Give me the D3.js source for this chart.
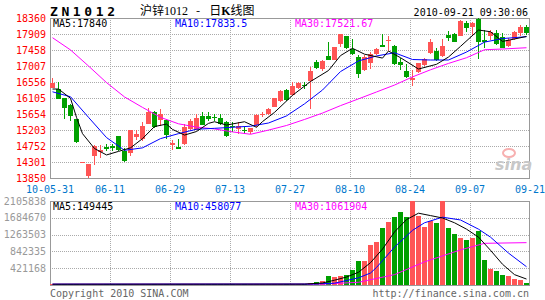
<!DOCTYPE html>
<html>
<head>
<meta charset="utf-8">
<script src="https://cdn.jsdelivr.net/npm/d3@7"></script>
<style>
body { margin: 0; background: #fff; }
svg { display: block; }
text { font-family: "DejaVu Sans Mono", monospace; font-size: 10px; }
</style>
</head>
<body>
<div id="chart"></div>
<script>
// ZN1012 daily candles, 80 trading days
const opens  = [16395,16358,16096,15920,15513,14290,13914,14478,14582,14732,14750,15033,14625,14568,15019,14963,15372,15710,15484,15484,
                14780,14732,14799,15231,15203,15605,15605,15580,15541,15440,15320,15220,15200,15138,15343,15635,15645,15859,16020,16330,
                16189,16395,16460,16584,17128,16922,17297,17176,17627,17844,17486,17269,16894,17083,17336,17598,17730,17579,17128,16866,
                16612,16829,17035,17364,17429,17297,17880,17900,17861,18210,18114,18330,17739,17861,17928,17832,17579,17768,17928,18114];
const highs  = [16677,16547,16110,15940,15520,14300,14252,14770,14794,14816,14816,15042,14704,15210,15189,15428,15831,15740,15808,15513,
                14921,14949,15372,15500,15645,15700,15700,15645,15640,15450,15440,15430,15290,15250,15645,15700,15810,16110,16330,16345,
                16564,16564,16564,16987,17176,17176,17675,17550,17900,17860,17768,17317,17317,17410,17506,17900,17861,17610,17240,17055,
                16894,17100,17220,17768,17506,17768,17993,17930,18303,18275,18250,18360,18021,18021,18021,17928,17787,17993,18162,18162];
const lows   = [16380,16080,15513,15456,14836,14285,13864,14230,14421,14610,14610,14610,14292,14484,14921,14892,15360,15259,15315,14949,
                14639,14667,14794,15200,15190,15330,15456,15456,15343,15000,15160,15090,15090,15090,15300,15570,15630,15850,16000,16030,
                16170,16358,16358,15786,16922,16866,17170,17170,17551,17500,17317,16660,16880,16922,17317,17540,17429,17035,16894,16660,
                16451,16810,17020,17336,17148,17269,17711,17675,17850,17956,17861,17204,17506,17739,17610,17506,17551,17739,17861,17870];
const closes = [16519,16090,15814,15605,14878,14295,14252,14760,14653,14667,14687,14639,14330,15203,15081,15315,15710,15287,15653,15061,
                14844,14681,15301,15456,15541,15343,15513,15565,15372,15042,15300,15310,15180,15250,15625,15650,15795,16096,16302,16048,
                16451,16519,16440,16866,16942,17148,17176,17534,17900,17522,17336,16773,17269,17336,17486,17551,17739,17055,17035,16705,
                16677,17083,17204,17675,17176,17579,17787,17692,18275,18086,18210,17692,17692,17973,17618,17522,17739,17956,18114,17928];
const volumes = [22000,18000,25000,20000,24000,16000,21000,19000,23000,17000,20000,22000,18000,24000,21000,19000,23000,20000,22000,18000,
                 21000,19000,24000,20000,22000,23000,18000,21000,20000,24000,19000,22000,20000,23000,21000,19000,24000,22000,25000,23000,
                 26000,24000,28000,45000,68000,100000,225000,200000,225000,250000,376000,602000,602000,1003000,1070000,1436000,1587000,1705000,1838000,1705000,
                 2105838,1730000,1461000,1604000,1562000,2100000,1421000,1278000,1186000,1128000,1186000,1354000,627000,401000,351000,240000,215000,140000,130000,50000];

// moving averages (candle index -> value)
const ma5Idx  = [0,1,3,4,5,7,9,11,13,15,17,19,20,22,24,26,27,29,32,34,35,37,40,43,46,48,50,52,55,56,58,61,64,66,68,71,73,75,77,79];
const ma5Val  = [16358,16358,16096,15560,15100,14680,14500,14600,14700,14960,15300,15370,15220,15060,15160,15390,15436,15343,15436,15280,
                 15440,15700,16180,16570,16880,17300,17506,17340,17230,17429,17240,16922,17055,17260,17560,18021,17973,17700,17768,17840];
const maIdx   = [0,3,6,9,12,15,18,21,24,27,30,33,36,39,42,45,48,51,54,57,60,63,66,69,72,75,79];
const ma10Val = [16280,16140,15560,14990,14630,14700,14960,15100,15225,15250,15280,15310,15400,15600,15940,16330,16850,17150,17290,17380,
                 17190,17176,17176,17400,17680,17780,17833.5];
const ma30Val = [17805,17460,17007,16540,16135,15840,15560,15377,15285,15233,15150,15082,15200,15330,15500,15680,15890,16080,16275,16470,
                 16700,16900,17080,17240,17465,17486,17521.67];

const vma5Idx  = [0,42,45,47,49,51,53,55,57,59,61,63,65,67,69,71,73,75,77,79];
const vma5Val  = [20000,22000,50000,120000,200000,320000,560000,900000,1330000,1640000,1800000,1740000,1680000,1560000,1400000,1200000,870000,520000,260000,149445];
const vma10Idx = [0,43,47,51,53,54,57,60,62,65,68,71,73,76,79];
const vma10Val = [20000,22000,45000,180000,300000,440000,950000,1370000,1560000,1700000,1630000,1400000,1200000,800000,458077];
const vma30Idx = [0,45,51,57,62,68,72,79];
const vma30Val = [20000,22000,68000,260000,580000,880000,1045000,1061904];

const priceTicks = [13850,14301,14752,15203,15654,16105,16556,17007,17458,17909,18360];
const volTicks = [421168,842335,1263503,1684670,2105838];
const dateLabels = ["10-05-31","06-11","06-29","07-13","07-27","08-10","08-24","09-07","09-21"];
const dateIdx = [0,10,20,30,40,50,60,70,80];

const W = 545, H = 300;
const left = 50, right = 530;
const priceTop = 18, priceBot = 178;
const volTop = 201, volBot = 285;
const UP = "#ff5555", DOWN = "#00a000";
const GRID = "#aaaaaa", FRAME = "#999999";

const svg = d3.select("#chart").append("svg")
    .attr("width", W)
    .attr("height", H);

const n = closes.length;
let x = d3.scaleBand()
    .domain(d3.range(n))
    .range([left - 0.5, right - 0.5])
    .paddingInner(1 / 6)
    .paddingOuter(1 / 12);
let xLin = d3.scaleLinear().domain([0, n]).range([left, right]);
let xc = i => x(i) + x.bandwidth() / 2;

let y = d3.scaleLinear().domain([13850, 18360]).range([priceBot, priceTop]);
let yv = d3.scaleLinear().domain([0, 2105838]).range([volBot, volTop]);

// ---- header
svg.append("text")
    .attr("x", 50).attr("y", 16)
    .style("font-size", "13px").style("font-weight", "bold")
    .attr("letter-spacing", 3.6)
    .text("ZN1012");
let title = svg.append("text")
    .attr("x", 140).attr("y", 15)
    .style("font-family", "'Noto Sans CJK SC', sans-serif")
    .style("font-size", "12px");
title.append("tspan").text("沪锌");
title.append("tspan").style("font-family", "'Liberation Serif', serif").style("font-size", "12px").text("1012");
title.append("tspan").attr("dx", 8).text("-");
title.append("tspan").attr("dx", 9).text("日");
title.append("tspan").style("font-weight", "bold").style("font-family", "'Liberation Serif', serif").text("K");
title.append("tspan").text("线图");
svg.append("text")
    .attr("x", 528).attr("y", 16)
    .style("text-anchor", "end")
    .text("2010-09-21 09:30:06");

// ---- grids
function grid(yScale, ticks) {
    svg.append("g").selectAll("line").data(ticks).enter()
        .append("line")
        .attr("x1", left).attr("x2", right)
        .attr("y1", d => Math.round(yScale(d)) + 0.5)
        .attr("y2", d => Math.round(yScale(d)) + 0.5)
        .attr("stroke", GRID).attr("stroke-dasharray", "1,1");
}
grid(y, priceTicks.slice(1, -1));
grid(yv, volTicks.slice(0, -1));

let vIdx = d3.range(10, n, 10);
[[priceTop, priceBot], [volTop, volBot]].forEach(function(r) {
    svg.append("g").selectAll("line").data(vIdx).enter()
        .append("line")
        .attr("x1", d => xLin(d) + 0.5).attr("x2", d => xLin(d) + 0.5)
        .attr("y1", r[0]).attr("y2", r[1])
        .attr("stroke", GRID).attr("stroke-dasharray", "1,1");
});

// ---- frames
svg.append("rect")
    .attr("x", left + 0.5).attr("y", priceTop + 0.5)
    .attr("width", right - left - 1).attr("height", priceBot - priceTop)
    .attr("fill", "none").attr("stroke", FRAME);
svg.append("rect")
    .attr("x", left + 0.5).attr("y", volTop + 0.5)
    .attr("width", right - left - 1).attr("height", volBot - volTop)
    .attr("fill", "none").attr("stroke", FRAME);

// ---- axis labels
svg.append("g").selectAll("text").data(priceTicks).enter()
    .append("text")
    .attr("x", 46).attr("y", d => y(d) + 3.5)
    .style("text-anchor", "end")
    .style("fill", "#ff0000")
    .text(d => d);
svg.append("g").selectAll("text").data(volTicks).enter()
    .append("text")
    .attr("x", 46).attr("y", d => yv(d) + 3.5)
    .style("text-anchor", "end")
    .style("fill", "#999999")
    .text(d => d);
svg.append("g").selectAll("text").data(dateLabels).enter()
    .append("text")
    .attr("x", (d, i) => xLin(dateIdx[i]))
    .attr("y", 193)
    .style("text-anchor", "middle")
    .style("fill", "#0077cc")
    .text(d => d);

// ---- watermark
svg.append("ellipse")
    .attr("cx", 509).attr("cy", 153).attr("rx", 6).attr("ry", 4)
    .attr("fill", "none").attr("stroke", "#f7b0b0").attr("stroke-width", 2);
svg.append("text")
    .attr("x", 495).attr("y", 170)
    .style("font-family", "'DejaVu Sans', sans-serif")
    .style("font-size", "16px").style("font-style", "italic").style("font-weight", "bold")
    .style("fill", "#c8c8c8")
    .text("sina");

// ---- candles
let isUp = i => closes[i] >= opens[i];
let cg = svg.append("g").attr("shape-rendering", "crispEdges");
cg.selectAll("line").data(d3.range(n)).enter()
    .append("line")
    .attr("x1", i => x(i) + 2.5).attr("x2", i => x(i) + 2.5)
    .attr("y1", i => y(highs[i])).attr("y2", i => y(lows[i]))
    .attr("stroke", i => isUp(i) ? UP : DOWN);
cg.selectAll("rect").data(d3.range(n)).enter()
    .append("rect")
    .attr("x", i => x(i))
    .attr("width", x.bandwidth())
    .attr("y", i => y(Math.max(opens[i], closes[i])))
    .attr("height", i => Math.max(1, Math.abs(y(opens[i]) - y(closes[i]))))
    .attr("fill", i => isUp(i) ? UP : DOWN);

// ---- volume bars
svg.append("g").attr("shape-rendering", "crispEdges")
    .selectAll("rect").data(d3.range(n)).enter()
    .append("rect")
    .attr("x", i => x(i))
    .attr("width", x.bandwidth())
    .attr("y", i => Math.min(volBot - 1, yv(volumes[i])))
    .attr("height", i => Math.max(1, volBot - yv(volumes[i])))
    .attr("fill", i => isUp(i) ? UP : DOWN);

// ---- MA lines
function maLine(idx, vals, scale, color) {
    let line = d3.line().x(d => xc(d)).y((d, k) => scale(vals[k]));
    svg.append("path")
        .datum(idx)
        .attr("d", line)
        .attr("fill", "none")
        .attr("stroke", color)
        .attr("stroke-width", 1);
}
maLine(maIdx, ma30Val, y, "#ff00ff");
maLine(maIdx, ma10Val, y, "#0000ff");
maLine(ma5Idx, ma5Val, y, "#000000");
maLine(vma30Idx, vma30Val, yv, "#ff00ff");
maLine(vma10Idx, vma10Val, yv, "#0000ff");
maLine(vma5Idx, vma5Val, yv, "#000000");

// ---- legends
function legend(yPos, items) {
    items.forEach(function(it) {
        svg.append("text")
            .attr("x", it[0]).attr("y", yPos)
            .style("fill", it[2])
            .text(it[1]);
    });
}
legend(27, [[53, "MA5:17840", "#000"], [175, "MA10:17833.5", "#0000ff"], [295, "MA30:17521.67", "#ff00ff"]]);
legend(210, [[53, "MA5:149445", "#000"], [175, "MA10:458077", "#0000ff"], [295, "MA30:1061904", "#ff00ff"]]);

// ---- footer
svg.append("text").attr("x", 50).attr("y", 297).style("fill", "#666").text("Copyright 2010 SINA.COM");
svg.append("text").attr("x", 529).attr("y", 297).style("text-anchor", "end").style("fill", "#666").text("http://finance.sina.com.cn");
</script>
</body>
</html>
